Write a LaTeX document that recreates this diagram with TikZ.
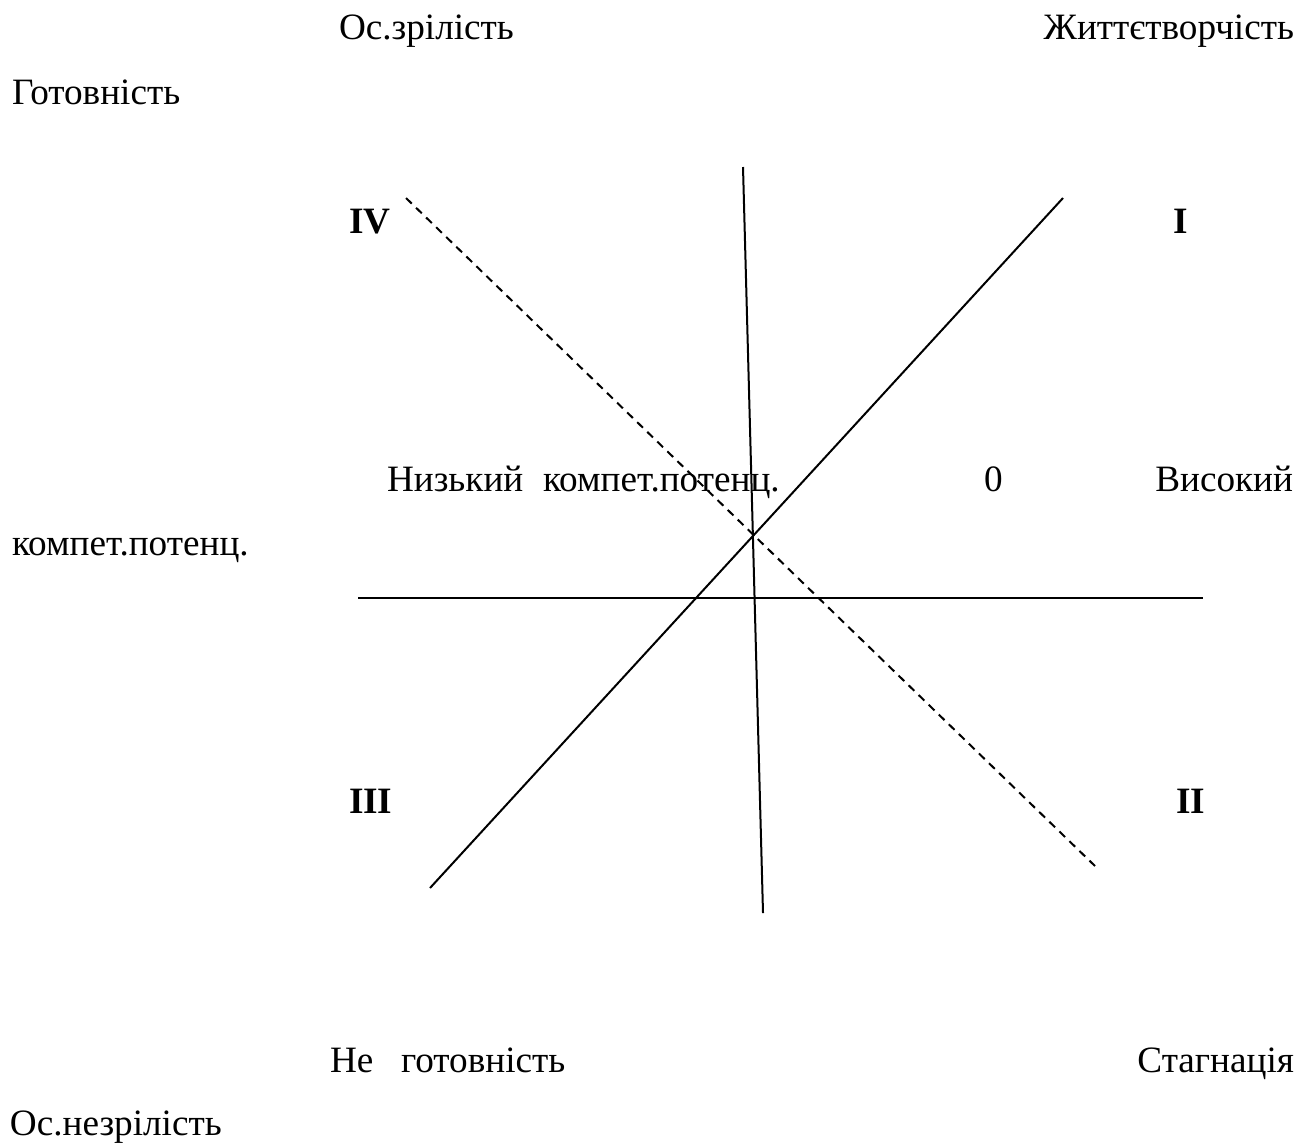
\documentclass[tikz,border=0pt]{standalone}
\usepackage{fontspec}
\setmainfont{Liberation Serif}
\begin{document}
\begin{tikzpicture}[x=0.5pt,y=-0.5pt,
  lbl/.style={inner sep=0pt,outer sep=0pt,font=\fontsize{18.6}{22}\selectfont},
  roman/.style={lbl,font=\fontsize{18.6}{22}\selectfont\bfseries},
  axis/.style={line width=1pt,black},
  dashaxis/.style={line width=1pt,black,dash pattern=on 4pt off 3pt}]
\useasboundingbox (0,0) rectangle (1309,1142);
% texts
\node[lbl,anchor=base west] (osz) at (339,39) {Ос.зрілість};
\node[lbl,anchor=base east] (zhyt) at (1294,39) {Життєтворчість};
\node[lbl,anchor=base west] (got) at (12,104) {Готовність};
\node[roman,anchor=base west] (q4) at (349,233) {IV};
\node[roman,anchor=base west] (q1) at (1173,233) {I};
\node[lbl,anchor=base west] (nyz) at (387,491) {Низький};
\node[lbl,anchor=base west] (kp1) at (543,491) {компет.потенц.};
\node[lbl,anchor=base west] (zero) at (984,491) {0};
\node[lbl,anchor=base east] (vys) at (1293,491) {Високий};
\node[lbl,anchor=base west] (kp2) at (12,555) {компет.потенц.};
\node[roman,anchor=base west] (q3) at (349,813) {III};
\node[roman,anchor=base east] (q2) at (1205,813) {II};
\node[lbl,anchor=base west] (ne) at (330,1072) {Не};
\node[lbl,anchor=base west] (gotn) at (401,1072) {готовність};
\node[lbl,anchor=base east] (stag) at (1294,1072) {Стагнація};
\node[lbl,anchor=base west] (osn) at (10,1135) {Ос.незрілість};
% line end points
\coordinate (hL) at (358,598);
\coordinate (hR) at (1203,598);
\coordinate (vT) at (743,167);
\coordinate (vB) at (763,913);
\coordinate (sB) at (430,888);
\coordinate (sT) at (1063,198);
\coordinate (dT) at (406,198);
\coordinate (dB) at (1095,866);
% lines
\draw[axis] (hL) -- (hR);
\draw[axis] (vT) -- (vB);
\draw[axis] (sB) -- (sT);
\draw[dashaxis] (dT) -- (dB);
\end{tikzpicture}
\end{document}
